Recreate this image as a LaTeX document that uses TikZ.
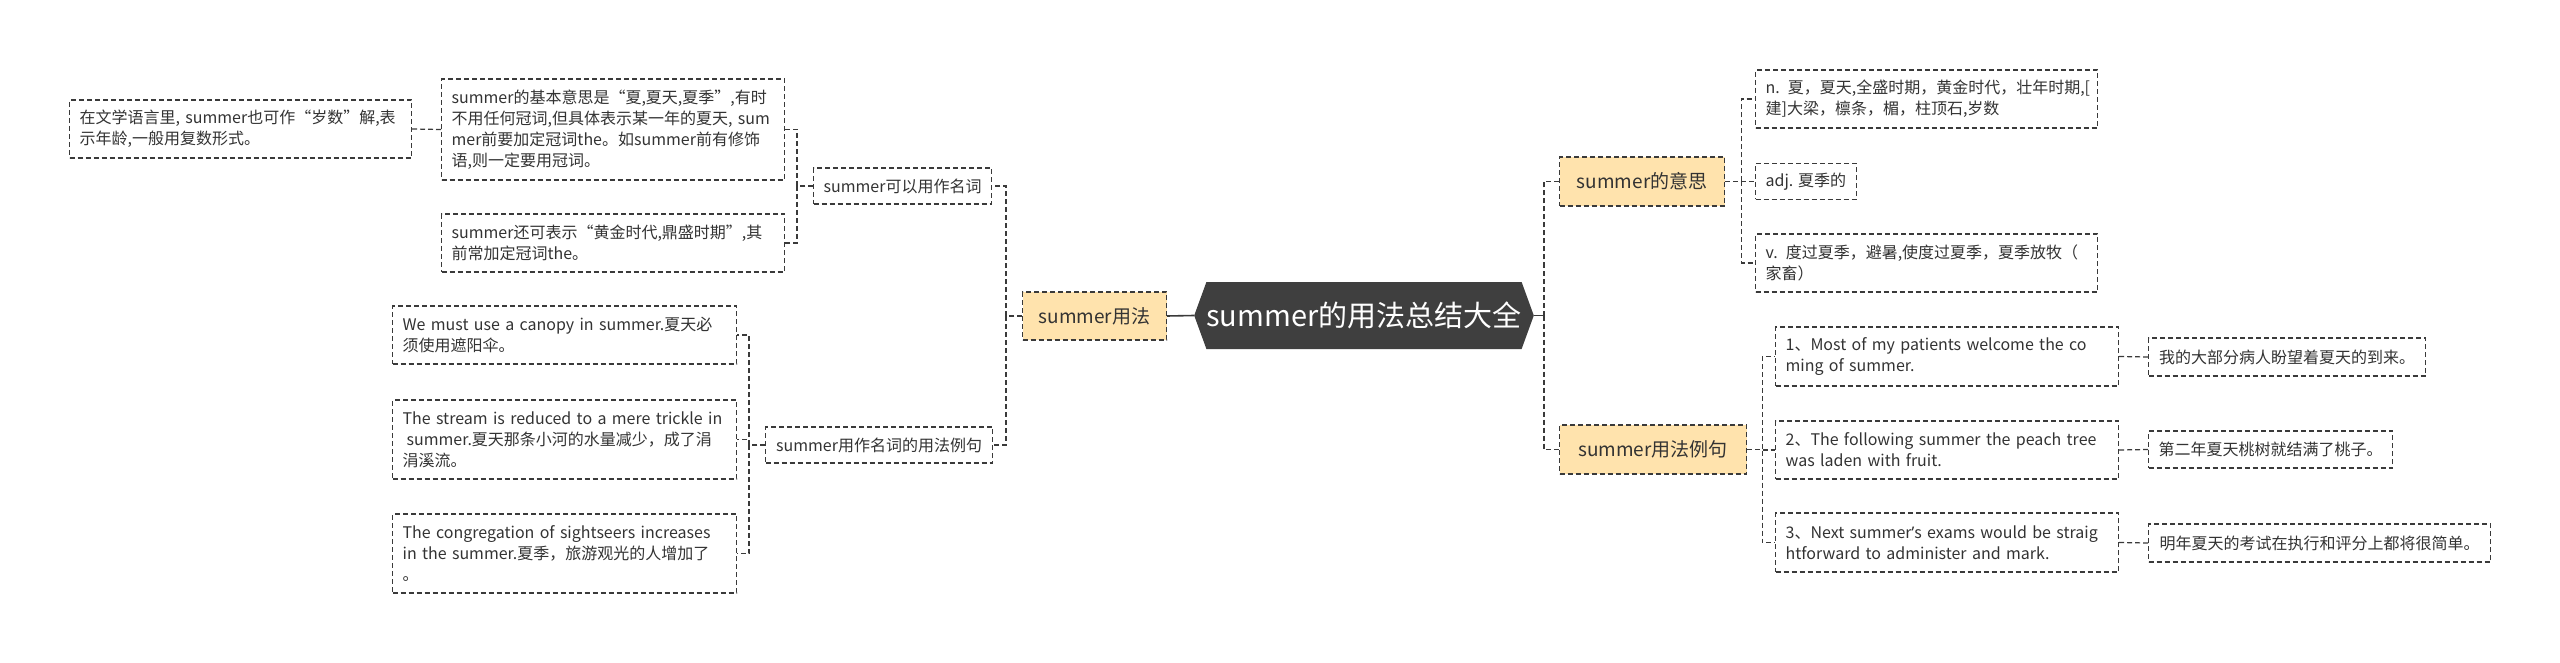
\documentclass[tikz,border=0pt]{standalone}
\usepackage{fontspec}
\setmainfont{Noto Sans CJK SC}
\newfontfamily\latinap{Noto Sans}
\usetikzlibrary{shapes.symbols}
\definecolor{lineC}{HTML}{3A3A3A}
\definecolor{orangeF}{HTML}{FFE3AD}
\definecolor{hexF}{HTML}{3F3F3F}
\definecolor{txtC}{HTML}{333333}
\begin{document}
\begin{tikzpicture}[x=1pt,y=-1pt,
  box/.style={draw=lineC, dash pattern=on 5pt off 3pt, line width=1.2pt,
    inner xsep=10pt, inner ysep=0pt, anchor=west, text=txtC,
    font=\fontsize{16}{21}\selectfont},
  leaf/.style={box, align=left},
  single/.style={box},
  lvlone/.style={box, fill=orangeF, font=\fontsize{19}{23}\selectfont},
  conn/.style={draw=lineC, line width=1.2pt, dash pattern=on 5pt off 3pt},
  solidconn/.style={draw=lineC, line width=1.6pt}
]
\useasboundingbox (0,0) rectangle (2560,663);
\fill[white] (0,0) rectangle (2560,663);

% root
\node[signal, signal to=west and east, signal pointer angle=140, fill=hexF,
  minimum width=334pt, minimum height=67pt, inner sep=0pt, text=white,
  font=\fontsize{29}{33}\selectfont] (root) at (1364,315.5) {summer的用法总结大全};

% left branch
\node[lvlone, minimum width=144pt, minimum height=48pt] (L1) at (1022,316) {summer用法};
\node[single, minimum width=178pt, minimum height=36pt] (B1) at (813,186) {summer可以用作名词};
\node[single, minimum width=227pt, minimum height=36pt] (B2) at (765,445) {summer用作名词的用法例句};

\node[leaf, text width=322pt, minimum height=58pt] (A1) at (69,129)
  {在文学语言里, summer也可作“岁数”解,表\\示年龄,一般用复数形式。};
\node[leaf, text width=323pt, minimum height=101pt] (A2) at (441,129.5)
  {summer的基本意思是“夏,夏天,夏季”,有时\\不用任何冠词,但具体表示某一年的夏天, sum\\mer前要加定冠词the。如summer前有修饰\\语,则一定要用冠词。};
\node[leaf, text width=323pt, minimum height=58pt] (A3) at (441,243)
  {summer还可表示“黄金时代,鼎盛时期”,其\\前常加定冠词the。};

\node[leaf, text width=324pt, minimum height=58pt] (C1) at (392,335)
  {We must use a canopy in summer.夏天必\\须使用遮阳伞。};
\node[leaf, text width=324pt, minimum height=79pt] (C2) at (392,439.5)
  {The stream is reduced to a mere trickle in\\\hspace*{0.25em}summer.夏天那条小河的水量减少，成了涓\\涓溪流。};
\node[leaf, text width=324pt, minimum height=79pt] (C3) at (392,553.5)
  {The congregation of sightseers increases\\in the summer.夏季，旅游观光的人增加了\\。};

% right branch
\node[lvlone, minimum width=165pt, minimum height=49pt] (R1) at (1559,181.5) {summer的意思};
\node[leaf, text width=322pt, minimum height=58pt] (D1) at (1755,99)
  {n. 夏，夏天,全盛时期，黄金时代，壮年时期,[\\建]大梁，檩条，楣，柱顶石,岁数};
\node[single, minimum width=98pt, minimum height=36pt] (D2) at (1755,181.5) {adj. 夏季的};
\node[leaf, text width=322pt, minimum height=58pt] (D3) at (1755,263)
  {v. 度过夏季，避暑,使度过夏季，夏季放牧（\\家畜）};

\node[lvlone, minimum width=187pt, minimum height=49pt] (R2) at (1559,449.5) {summer用法例句};
\node[leaf, text width=323pt, minimum height=59pt] (E1) at (1775,356.5)
  {1、Most of my patients welcome the co\\ming of summer.};
\node[leaf, text width=323pt, minimum height=58pt] (E2) at (1775,450)
  {2、The following summer the peach tree\\was laden with fruit.};
\node[leaf, text width=323pt, minimum height=59pt] (E3) at (1775,542.5)
  {3、Next summer{\latinap ’}s exams would be straig\\htforward to administer and mark.};
\node[single, minimum width=277pt, minimum height=38pt] (F1) at (2148,357) {我的大部分病人盼望着夏天的到来。};
\node[single, minimum width=244pt, minimum height=37pt] (F2) at (2148,449.5) {第二年夏天桃树就结满了桃子。};
\node[single, minimum width=342pt, minimum height=38pt] (F3) at (2148,543) {明年夏天的考试在执行和评分上都将很简单。};

% connectors
\coordinate (bR) at (1544,315.5);
\draw[solidconn] (root.west) -- (L1.east);
\draw[solidconn] (root.east) -- (bR);
\draw[conn] (bR) |- (R1.west);
\draw[conn] (bR) |- (R2.west);

\draw[conn] (L1.west) -- ++(-16,0) |- (B1.east);
\draw[conn] (L1.west) -- ++(-16,0) |- (B2.east);
\draw[conn] (B1.west) -- ++(-16,0) |- (A2.east);
\draw[conn] (B1.west) -- ++(-16,0) |- (A3.east);
\draw[conn] (A2.west) -- (A1.east);
\draw[conn] (B2.west) -- ++(-16,0) |- (C1.east);
\draw[conn] (B2.west) -- ++(-16,0) |- (C2.east);
\draw[conn] (B2.west) -- ++(-16,0) |- (C3.east);

\draw[conn] (R1.east) -- ++(16,0) |- (D1.west);
\draw[conn] (R1.east) -- ++(16,0) |- (D2.west);
\draw[conn] (R1.east) -- ++(16,0) |- (D3.west);
\draw[conn] (R2.east) -- ++(15,0) |- (E1.west);
\draw[conn] (R2.east) -- ++(15,0) |- (E2.west);
\draw[conn] (R2.east) -- ++(15,0) |- (E3.west);
\draw[conn] (E1.east) -- (F1.west);
\draw[conn] (E2.east) -- (F2.west);
\draw[conn] (E3.east) -- (F3.west);
\end{tikzpicture}
\end{document}
